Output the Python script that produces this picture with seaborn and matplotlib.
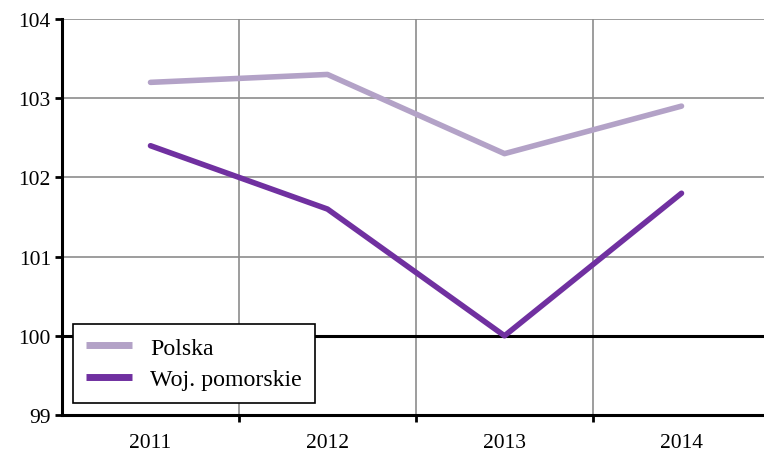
import pandas as pd
import matplotlib.pyplot as plt
import seaborn as sns

# Dane
lata = ['2011', '2012', '2013', '2014']
polska = [103.2, 103.3, 102.3, 102.9]
pomorskie = [102.4, 101.6, 100.0, 101.8]
serie = ['Polska', 'Woj. pomorskie']
kolory = ['#b3a2c7', '#7030a0']

df = pd.DataFrame({
    'rok': list(range(len(lata))) * 2,
    'wartosc': polska + pomorskie,
    'seria': [serie[0]] * len(lata) + [serie[1]] * len(lata),
})

sns.set_style('white')
plt.rcParams['font.family'] = ['Liberation Serif', 'DejaVu Serif']
plt.rcParams['text.color'] = 'black'
plt.rcParams['xtick.color'] = 'black'
plt.rcParams['ytick.color'] = 'black'

fig = plt.figure(figsize=(7.64, 4.52), dpi=100)
ax = fig.add_axes([62 / 764, 36 / 452, 708 / 764, 396 / 452])

# siatka
for y in [101, 102, 103, 104]:
    ax.axhline(y, color='#8c8c8c', lw=1.2, zorder=0)
for x in [0.5, 1.5, 2.5]:
    ax.axvline(x, color='#8c8c8c', lw=1.2, zorder=0)
ax.axhline(100, color='black', lw=2.2, zorder=1)

sns.lineplot(data=df, x='rok', y='wartosc', hue='seria', palette=kolory,
             linewidth=4, ax=ax, zorder=3, solid_capstyle='round')

ax.set_xlim(-0.5, 3.5)
ax.set_ylim(99, 104)
ax.set_yticks([99, 100, 101, 102, 103, 104])
ax.set_xticks([0.5, 1.5, 2.5, 3.5])
ax.set_xticklabels([])
ax.set_xticks(range(len(lata)), minor=True)
ax.set_xticklabels(lata, minor=True)
ax.tick_params(axis='x', which='minor', bottom=False, length=0, labelsize=15.5, pad=13)
ax.tick_params(axis='x', which='major', bottom=True, direction='out', length=5, width=2)
ax.tick_params(axis='y', left=True, direction='out', length=5, width=2, labelsize=15.5, pad=3)
ax.set_xlabel('')
ax.set_ylabel('')

for s in ['top', 'right']:
    ax.spines[s].set_visible(False)
for s in ['left', 'bottom']:
    ax.spines[s].set_color('black')
    ax.spines[s].set_linewidth(2.2)

leg = ax.legend(loc='lower left', bbox_to_anchor=(0.016, 0.03), fontsize=17.2,
                frameon=True, fancybox=False, edgecolor='black', framealpha=1,
                handlelength=1.9, borderpad=0.55, labelspacing=0.4, handletextpad=0.75,
                borderaxespad=0)
leg.get_frame().set_linewidth(1.2)
leg.set_zorder(5)
for h in leg.get_lines():
    h.set_linewidth(5)
    h.set_solid_capstyle('butt')

fig.savefig('out.png', dpi=100)
